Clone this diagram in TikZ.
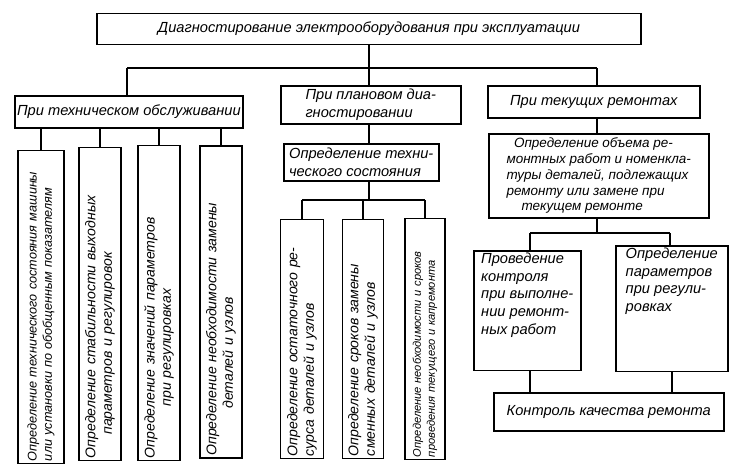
\documentclass[tikz,border=0pt]{standalone}
\usepackage{fontspec}
\setmainfont{Liberation Sans}
\usepackage{tikz}

\tikzset{
	box/.style={draw, line width=1.3pt, inner sep=2pt, font=\itshape\fontsize{12.5}{15}\selectfont},
	vbox/.style={box, rotate=90, align=left, font=\itshape\fontsize{12}{14}\selectfont},
	link/.style={line width=1.3pt}
}

\begin{document}
\begin{tikzpicture}[x=0.03cm, y=-0.03cm]
			\useasboundingbox (0,0) rectangle (742,476);
			% top level
			\node[box, minimum width=544*0.03cm, minimum height=31*0.03cm] (top) at (369,29) {Диагностирование электрооборудования при эксплуатации};
			\node[box, minimum width=228*0.03cm, minimum height=32*0.03cm, anchor=north west] (to) at (14,95) {При техническом обслуживании};
			\node[box, minimum width=180*0.03cm, minimum height=38*0.03cm, align=left, anchor=north west] (plan) at (280,85) {При плановом диа-\\гностировании};
			\node[box, minimum width=212*0.03cm, minimum height=32*0.03cm, anchor=north west] (rem) at (487,85) {При текущих ремонтах\hspace{10mm}};
			\coordinate (bar) at (369,68);
			\draw[link] (top.south) -- (bar);
			\draw[link] (127,68) -- (597,68);
			\draw[link] (127,68) -- (to.north -| 127,0);
			\draw[link] (369,68) -- (plan.north -| 369,0);
			\draw[link] (597,68) -- (rem.north -| 597,0);
			% technical service
			\node[vbox, text width=308*0.03cm, minimum height=46*0.03cm, font=\itshape\fontsize{10.8}{13}\selectfont] (t1) at (41,307) {Определение технического состояния машины\\или установки по обобщенным показателям};
			\node[vbox, text width=308*0.03cm, minimum height=42*0.03cm] (t2) at (100,304) {Определение стабильности выходных\\\ \ \ \ \ параметров и регулировок};
			\node[vbox, text width=310*0.03cm, minimum height=42*0.03cm] (t3) at (159,303) {Определение значений параметров\\\ \ \ \ \ \ \ \ \ \ \ при регулировках};
			\node[vbox, text width=307*0.03cm, minimum height=42*0.03cm] (t4) at (221,302) {Определение необходимости замены\\\ \ \ \ \ \ \ \ \ \ деталей и узлов};
			\foreach \n/\x in {t1/41, t2/100, t3/159, t4/221}
				\draw[link] (to.south -| \x,0) -- (\n.east -| \x,0);
			% planned diagnostics
			\node[box, minimum width=155*0.03cm, minimum height=37*0.03cm, align=left, anchor=north west] (state) at (283,143) {Определение техни-\\ческого состояния};
			\draw[link] (plan.south -| 369,0) -- (state.north -| 369,0);
			\coordinate (sbar) at (369,200);
			\draw[link] (state.south -| 369,0) -- (sbar);
			\draw[link] (302,200) -- (425,200);
			\node[vbox, text width=234*0.03cm, minimum height=43*0.03cm] (p1) at (302,339) {Определение остаточного ре-\\сурса деталей и узлов};
			\node[vbox, text width=234*0.03cm, minimum height=41*0.03cm] (p2) at (363,339) {Определение сроков замены\\сменных деталей и узлов};
			\node[vbox, text width=236*0.03cm, minimum height=40*0.03cm, font=\itshape\fontsize{9.5}{12}\selectfont] (p3) at (425,339) {Определение необходимости и сроков\\проведения текущего и капремонта};
			\foreach \n/\x in {p1/302, p2/363, p3/425}
				\draw[link] (\x,200) -- (\n.east -| \x,0);
			% current repairs
			\node[box, minimum width=220*0.03cm, minimum height=84*0.03cm, align=left, anchor=north west, inner sep=1pt, font=\itshape\fontsize{11.5}{13.5}\selectfont] (vol) at (488,133) {\ \ Определение объема ре-\\монтных работ и номенкла-\\туры деталей, подлежащих\\ремонту или замене при\\\ \ \ \ текущем ремонте};
			\draw[link] (rem.south -| 597,0) -- (vol.north -| 597,0);
			\draw[link] (vol.south -| 597,0) -- (597,233);
			\draw[link] (530,233) -- (670,233);
			\node[box, minimum width=107*0.03cm, minimum height=110*0.03cm, align=left, anchor=north west] (ctrl) at (473,250) {Проведение\\контроля\\при выполне-\\нии ремонт-\\ных работ\\[5mm]};
			\node[box, minimum width=112*0.03cm, minimum height=112*0.03cm, align=left, anchor=north west] (par) at (615,245) {Определение\\параметров\\при регули-\\ровках\\[12mm]};
			\draw[link] (530,233) -- (ctrl.north -| 530,0);
			\draw[link] (670,233) -- (par.north -| 670,0);
			\node[box, minimum width=230*0.03cm, minimum height=38*0.03cm, anchor=north west] (qual) at (493,392) {Контроль качества ремонта\hspace{8mm}};
			\draw[link] (ctrl.south -| 530,0) -- (qual.north -| 530,0);
			\draw[link] (par.south -| 672,0) -- (qual.north -| 672,0);
		\end{tikzpicture}
\end{document}
